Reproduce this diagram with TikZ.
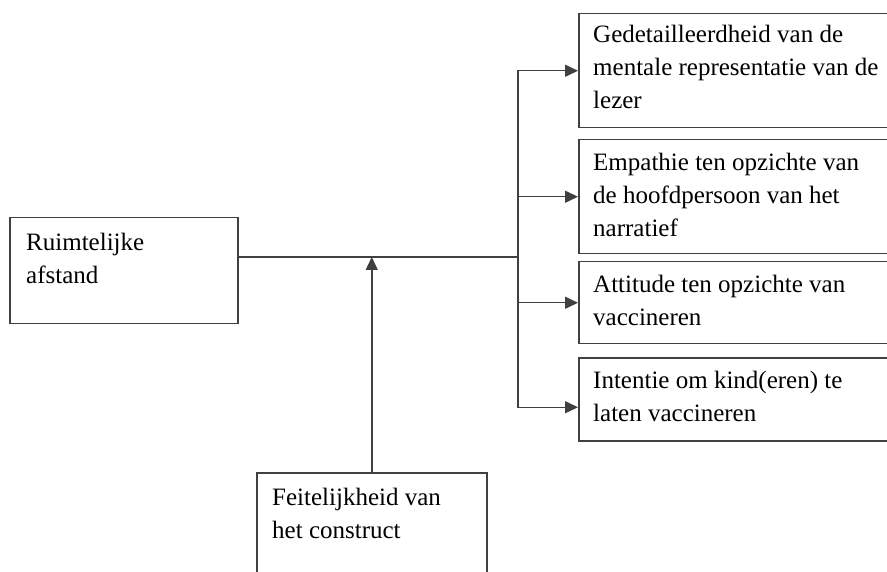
\documentclass[tikz,border=0pt]{standalone}
\usepackage{fontspec}
\setmainfont{Liberation Serif}
\usetikzlibrary{positioning,arrows.meta}

\begin{document}
\begin{tikzpicture}[x=1pt,y=-1pt,
  box/.style={draw=black!75,line width=1.5pt,inner sep=0pt,anchor=north west},
  txt/.style={anchor=north west,align=left,inner sep=0pt,font=\fontsize{25}{33}\selectfont},
  lijn/.style={draw=black!75,line width=1.5pt},
  pijl/.style={lijn,-{Triangle[length=13pt,width=12pt]}}]
  \clip (0,0) rectangle (887,572);
  \fill[white] (0,0) rectangle (887,572);
  % kaders
  \node[box,minimum width=228pt,minimum height=106pt] (R) at (9,217) {};
  \node[box,minimum width=230pt,minimum height=120pt] (F) at (256,472) {};
  \node[box,minimum width=330pt,minimum height=114pt] (G) at (578,13) {};
  \node[box,minimum width=330pt,minimum height=114pt] (E) at (578,139) {};
  \node[box,minimum width=330pt,minimum height=82pt] (A) at (578,261) {};
  \node[box,minimum width=330pt,minimum height=83pt] (I) at (578,357) {};
  % teksten
  \node[txt] (Rt) at ([shift={(17,16)}]R.north west) {Ruimtelijke\\afstand};
  \node[txt] (Ft) at ([shift={(16,16)}]F.north west) {Feitelijkheid van\\het construct};
  \node[txt] (Gt) at ([shift={(15,12)}]G.north west) {Gedetailleerdheid van de\\mentale representatie van de\\lezer};
  \node[txt] (Et) at ([shift={(15,14)}]E.north west) {Empathie ten opzichte van\\de hoofdpersoon van het\\narratief};
  \node[txt] (At) at ([shift={(15,14)}]A.north west) {Attitude ten opzichte van\\vaccineren};
  \node[txt] (It) at ([shift={(15,14)}]I.north west) {Intentie om kind(eren) te\\laten vaccineren};
  % verbindingen
  \coordinate (split) at (518,257);
  \coordinate (join) at (F.north |- split);
  \draw[lijn] (R.east |- split) -- (split);
  \draw[pijl] (split) |- (G.west);
  \draw[pijl] (split) |- (E.west);
  \draw[pijl] (split) |- (A.west);
  \draw[pijl] (split) |- ([yshift=-8pt]I.west);
  \draw[pijl] (F.north) -- (join);
\end{tikzpicture}
\end{document}
